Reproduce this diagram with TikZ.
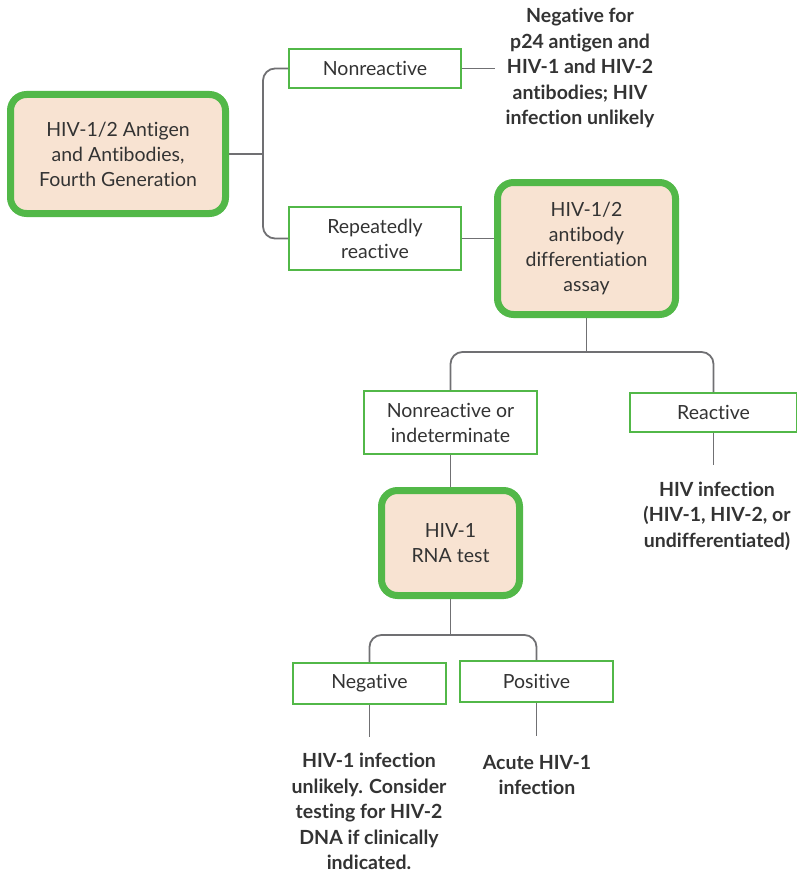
\documentclass[tikz,border=0pt]{standalone}
\usepackage{fontspec}
\setmainfont{Lato}[Ligatures=NoCommon]
\definecolor{hivgreen}{HTML}{52B848}
\definecolor{peach}{HTML}{F8E3D2}
\definecolor{linegray}{HTML}{707073}
\definecolor{txt}{HTML}{333333}
\tikzset{
  test/.style={draw=hivgreen, line width=7pt, rounded corners=16pt, fill=peach, align=center, text=txt, inner sep=0pt},
  result/.style={draw=hivgreen, line width=1.6pt, fill=white, align=center, text=txt, inner sep=0pt},
  outcome/.style={align=center, text=txt, font=\fontsize{19.5}{25.5}\selectfont\bfseries},
  link/.style={draw=linegray, line width=1.8pt}
}
\begin{document}
\begin{tikzpicture}[x=1pt,y=-1pt,font=\fontsize{19.5}{25}\selectfont]
\useasboundingbox (0,0) rectangle (796,872);

\node[test, minimum width=215pt, minimum height=119pt] (gen) at (118,154) {HIV-1/2 Antigen\\and Antibodies,\\Fourth Generation};
\node[result, minimum width=172pt, minimum height=39pt] (nonr) at (375,68.5) {Nonreactive};
\node[result, minimum width=172pt, minimum height=63pt] (rep) at (375,238.5) {Repeatedly\\reactive};
\node[outcome] (neg24) at (580,68) {Negative for\\p24 antigen and\\HIV-1 and HIV-2\\antibodies; HIV\\infection unlikely};
\node[test, minimum width=178pt, minimum height=132pt] (ad) at (586.5,248.5) {HIV-1/2\\antibody\\differentiation\\assay};

\node[result, minimum width=173pt, minimum height=63pt] (nri) at (450.5,422.5) {Nonreactive or\\indeterminate};
\node[result, minimum width=167pt, minimum height=39pt] (rea) at (713.5,412.5) {Reactive};
\node[outcome] (hivinf) at (717,516) {HIV infection\\(HIV-1, HIV-2, or\\undifferentiated)};
\node[test, minimum width=138pt, minimum height=105pt] (rna) at (450.5,543) {HIV-1\\RNA test};

\node[result, minimum width=153pt, minimum height=41pt] (neg) at (369.5,683.5) {Negative};
\node[result, minimum width=153pt, minimum height=41pt] (pos) at (536.5,681.5) {Positive};
\node[outcome] (unl) at (369,811.5) {HIV-1 infection\\unlikely. Consider\\testing for HIV-2\\DNA if clinically\\indicated.};
\node[outcome] (acute) at (537,775) {Acute HIV-1\\infection};

\coordinate (j1) at (263,154);
\coordinate (j2) at (586.5,352);
\coordinate (j3) at (450.5,635);
\coordinate (e1) at (495,68.5);
\coordinate (e2) at (713.5,465);
\coordinate (e3) at (369.5,737);
\coordinate (e4) at (536.5,736);

\draw[link] (gen.east) -- (j1);
\draw[link, rounded corners=12pt] (nonr.west) -| (j1) |- (rep.west);
\draw[link] (nonr.east) -- (e1);
\draw[link] (rep.east) -- (rep.east -| ad.west);

\draw[link] (ad.south) -- (j2);
\draw[link, rounded corners=12pt] (nri.north) |- (j2) -| (rea.north);
\draw[link] (rea.south) -- (e2);
\draw[link] (nri.south) -- (rna.north);

\draw[link] (rna.south) -- (j3);
\draw[link, rounded corners=12pt] (neg.north) |- (j3) -| (pos.north);
\draw[link] (neg.south) -- (e3);
\draw[link] (pos.south) -- (e4);
\end{tikzpicture}
\end{document}
